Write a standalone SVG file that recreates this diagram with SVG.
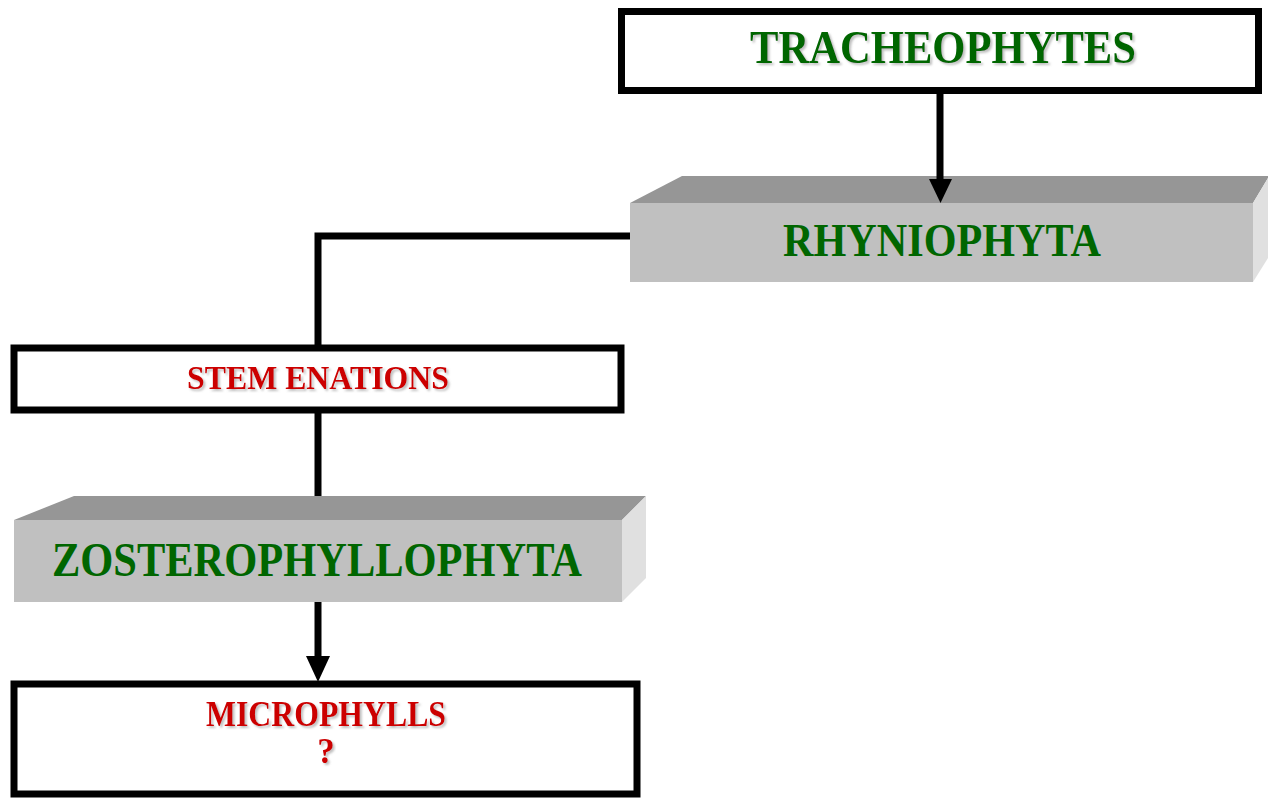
<svg xmlns="http://www.w3.org/2000/svg" width="1268" height="798" viewBox="0 0 1268 798">
<style>
.box{fill:#fff;stroke:#000;stroke-width:7}
.front{fill:#c0c0c0}
.top{fill:#969696}
.side{fill:#e0e0e0}
.t{font-family:"Liberation Serif","Times New Roman",serif;font-weight:bold;text-anchor:middle}
.g{fill:#006600}
.r{fill:#cc0000}
.conn{fill:none;stroke:#000;stroke-width:7}
.head{fill:#000}
</style>
<defs>
<filter id="sh" x="-5%" y="-20%" width="110%" height="150%">
<feDropShadow dx="2" dy="2" stdDeviation="1" flood-color="#808080" flood-opacity="0.5"/>
</filter>
</defs>
<rect width="1268" height="798" fill="#fff"/>
<g id="tracheophytes">
<rect class="box" x="621.5" y="11.5" width="637" height="79"/>
<text class="t g" x="943" y="63" font-size="46" textLength="386" lengthAdjust="spacingAndGlyphs" filter="url(#sh)">TRACHEOPHYTES</text>
</g>
<g id="rhyniophyta">
<polygon class="top" points="630,203 682,176 1268,176 1268,178 1253,203"/>
<polygon class="side" points="1253,203 1268,178 1268,258 1253,282"/>
<rect class="front" x="630" y="203" width="623" height="79"/>
<text class="t g" x="942" y="256" font-size="46" textLength="318" lengthAdjust="spacingAndGlyphs">RHYNIOPHYTA</text>
</g>
<g id="stem-enations">
<rect class="box" x="14" y="348" width="607" height="62" stroke-width="8"/>
<text class="t r" x="318" y="389" font-size="33" textLength="262" lengthAdjust="spacingAndGlyphs" filter="url(#sh)">STEM ENATIONS</text>
</g>
<g id="zosterophyllophyta">
<polygon class="top" points="14,520 74,496 646,496 622,520"/>
<polygon class="side" points="622,520 646,496 646,578 622,602"/>
<rect class="front" x="14" y="520" width="608" height="82"/>
<text class="t g" x="317" y="576" font-size="48" textLength="530" lengthAdjust="spacingAndGlyphs">ZOSTEROPHYLLOPHYTA</text>
</g>
<g id="microphylls">
<rect class="box" x="14" y="684" width="623" height="110" stroke-width="8"/>
<text class="t r" x="326" y="726" font-size="35" textLength="240" lengthAdjust="spacingAndGlyphs" filter="url(#sh)">MICROPHYLLS</text>
<text class="t r" x="326" y="763" font-size="35" filter="url(#sh)">?</text>
</g>
<g id="connectors">
<path class="conn" d="M940,94 V184"/>
<path class="head" d="M929,179 L952,179 L940.5,203 Z"/>
<path class="conn" d="M630,236 H318 V346"/>
<path class="conn" d="M318,413 V496"/>
<path class="conn" d="M318,602 V660"/>
<path class="head" d="M306,656 L330,656 L318,682 Z"/>
</g>
</svg>
